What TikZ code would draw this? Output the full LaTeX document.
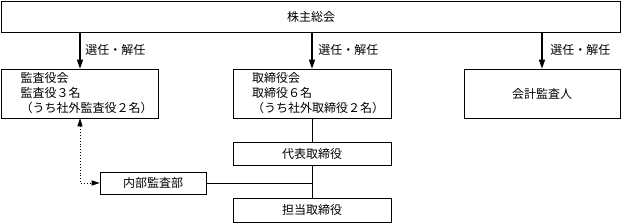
\documentclass[tikz,border=0pt]{standalone}
\usepackage{fontspec}
\setmainfont{Noto Sans CJK JP}
\usetikzlibrary{arrows.meta}

\begin{document}
\begin{tikzpicture}[x=1pt, y=-1pt, line width=0.7pt, >={Triangle[length=9pt,width=6pt]},
  font=\fontsize{12}{15}\selectfont,
  box/.style={draw, inner sep=0pt, minimum height=23pt},
  bigbox/.style={draw, inner sep=0pt, minimum width=157pt, minimum height=49pt},
  elect/.style={anchor=west, inner sep=0pt}]
  \useasboundingbox (0,0) rectangle (624,224);
  % shareholders
  \node[box, minimum width=619pt, minimum height=31pt] (soukai) at (311,16.5) {株主総会};
  % second row
  \node[bigbox] (kansa) at (80,93.5) {};
  \node[anchor=west, align=left, inner sep=0pt] (kansatxt) at ([xshift=19pt]kansa.west)
    {監査役会\\監査役３名\\（うち社外監査役２名）};
  \node[bigbox, minimum width=158pt] (torishimari) at (312,93.5) {};
  \node[anchor=west, align=left, inner sep=0pt] (torishimaritxt) at ([xshift=19pt]torishimari.west)
    {取締役会\\取締役６名\\（うち社外取締役２名）};
  \node[bigbox, minimum width=156pt] (kaikei) at (542,93.5) {会計監査人};
  % executives
  \node[box, minimum width=158pt] (daihyo) at (312,153.5) {代表取締役};
  \node[box, minimum width=158pt, minimum height=24pt] (tanto) at (312,210) {担当取締役};
  \node[box, minimum width=106pt, minimum height=22pt] (naibu) at (153,183) {内部監査部};
  \coordinate (junction) at (daihyo.south |- naibu.east);

  % election arrows
  \draw[->, line width=1.3pt] (kansa.north |- soukai.south) -- (kansa.north);
  \draw[->, line width=1.3pt] (torishimari.north |- soukai.south) -- (torishimari.north);
  \draw[->, line width=1.3pt] (kaikei.north |- soukai.south) -- (kaikei.north);
  \node[elect] (elect1) at (85,50) {選任・解任};
  \node[elect] (elect2) at (318,50) {選任・解任};
  \node[elect] (elect3) at (550,50) {選任・解任};

  % connections
  \draw (torishimari.south) -- (daihyo.north);
  \draw (daihyo.south) -- (tanto.north);
  \draw (naibu.east) -- (junction);
  \draw[dotted, <->, line width=0.9pt, >={Triangle[length=8pt,width=5pt]}] (kansa.south) |- (naibu.west);
\end{tikzpicture}
\end{document}
